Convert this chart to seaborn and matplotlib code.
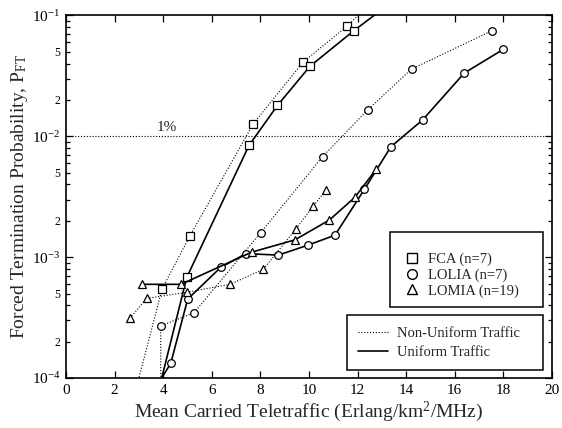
import matplotlib
matplotlib.use("Agg")
import matplotlib.pyplot as plt
from matplotlib.lines import Line2D
from matplotlib.patches import Rectangle
from matplotlib.ticker import FixedLocator, FuncFormatter, LogLocator
import numpy as np
import pandas as pd
import seaborn as sns

# ---- data: forced termination probability vs. carried teletraffic ----
# Points outside the plotted range continue each curve to the frame edge.
fca_nu_x = [2.80, 3.96, 5.10, 7.71, 9.75, 11.58, 12.60]
fca_nu_y = [7.0e-5, 5.5e-4, 1.5e-3, 1.27e-2, 4.1e-2, 8.2e-2, 1.3e-1]

fca_u_x = [3.80, 4.97, 7.53, 8.70, 10.04, 11.85, 13.20]
fca_u_y = [7.7e-5, 6.8e-4, 8.4e-3, 1.8e-2, 3.8e-2, 7.5e-2, 1.2e-1]

lolia_nu_x = [3.90, 3.90, 5.27, 8.02, 10.56, 12.41, 14.22, 17.54]
lolia_nu_y = [5.0e-5, 2.7e-4, 3.47e-4, 1.6e-3, 6.8e-3, 1.65e-2, 3.6e-2, 7.5e-2]

lolia_u_x = [3.70, 4.31, 5.01, 6.37, 7.41, 8.74, 9.97, 11.07, 12.28, 13.37, 14.68, 16.39, 18.00]
lolia_u_y = [8.4e-5, 1.32e-4, 4.5e-4, 8.24e-4, 1.07e-3, 1.04e-3, 1.26e-3, 1.52e-3,
             3.64e-3, 8.2e-3, 1.37e-2, 3.34e-2, 5.25e-2]

lomia_nu_x = [2.63, 3.32, 4.97, 6.75, 8.12, 9.45, 10.18, 10.70]
lomia_nu_y = [3.12e-4, 4.56e-4, 5.12e-4, 5.96e-4, 7.93e-4, 1.7e-3, 2.65e-3, 3.59e-3]

lomia_u_x = [3.14, 4.73, 7.64, 9.42, 10.84, 11.89, 12.76]
lomia_u_y = [5.96e-4, 5.96e-4, 1.1e-3, 1.39e-3, 2.03e-3, 3.13e-3, 5.33e-3]

schemes = ["FCA (n=7)", "LOLIA (n=7)", "LOMIA (n=19)"]
traffic = ["Non-Uniform Traffic", "Uniform Traffic"]
threshold = 1e-2

# ---- style ----
sns.set_theme(style="ticks")
plt.rcParams["font.family"] = ["Liberation Serif", "DejaVu Serif"]
plt.rcParams["mathtext.fontset"] = "custom"
plt.rcParams["mathtext.rm"] = "Liberation Serif"
plt.rcParams["mathtext.it"] = "Liberation Serif:italic"
plt.rcParams["mathtext.default"] = "regular"

DOT = (0, (1.0, 1.6))
styles = {"Non-Uniform Traffic": dict(ls=DOT, lw=0.8),
          "Uniform Traffic": dict(ls="-", lw=1.2)}
markers = {"FCA (n=7)": "s", "LOLIA (n=7)": "o", "LOMIA (n=19)": "^"}

series = [
    ("FCA (n=7)", "Non-Uniform Traffic", fca_nu_x, fca_nu_y),
    ("FCA (n=7)", "Uniform Traffic", fca_u_x, fca_u_y),
    ("LOLIA (n=7)", "Non-Uniform Traffic", lolia_nu_x, lolia_nu_y),
    ("LOLIA (n=7)", "Uniform Traffic", lolia_u_x, lolia_u_y),
    ("LOMIA (n=19)", "Non-Uniform Traffic", lomia_nu_x, lomia_nu_y),
    ("LOMIA (n=19)", "Uniform Traffic", lomia_u_x, lomia_u_y),
]

fig = plt.figure(figsize=(5.62, 4.28), dpi=100)
ax = fig.add_axes([0.1174, 0.1168, 0.8648, 0.8470])

for scheme, tr, xs, ys in series:
    df = pd.DataFrame({"load": xs, "pft": ys})
    st = styles[tr]
    sns.lineplot(data=df, x="load", y="pft", ax=ax, sort=False, estimator=None,
                 color="black", linestyle=st["ls"], linewidth=st["lw"],
                 marker=markers[scheme], markersize=5.5, markerfacecolor="white",
                 markeredgecolor="black", markeredgewidth=0.9, zorder=3)

# 1% reference line
ax.axhline(threshold, color="black", linestyle=DOT, linewidth=0.8, zorder=2)
ax.text(3.75, threshold * 1.04, "1%", fontsize=11, ha="left", va="bottom")

# ---- axes ----
ax.set_yscale("log")
ax.set_xlim(0, 20)
ax.set_ylim(1e-4, 1e-1)
ax.set_xticks(np.arange(0, 21, 2))
ax.yaxis.set_major_locator(FixedLocator([1e-4, 1e-3, 1e-2, 1e-1]))
ax.yaxis.set_major_formatter(
    FuncFormatter(lambda v, p: r"$10^{%d}$" % int(round(np.log10(v)))))
ax.yaxis.set_minor_locator(LogLocator(base=10, subs=np.arange(2, 10)))


def minor_label(v, p):
    m = v / 10 ** np.floor(np.log10(v) + 1e-9)
    m = int(round(m))
    return str(m) if m in (2, 5) else ""


ax.yaxis.set_minor_formatter(FuncFormatter(minor_label))
ax.tick_params(axis="both", which="both", direction="in", top=True, right=True,
               colors="black", width=0.9)
ax.tick_params(axis="both", which="major", length=5, labelsize=11, pad=4)
ax.tick_params(axis="y", which="minor", length=3, labelsize=8.5, pad=4)
for s in ax.spines.values():
    s.set_color("black")
    s.set_linewidth(1.2)

ax.set_xlabel(r"Mean Carried Teletraffic (Erlang/km$^{2}$/MHz)", fontsize=14, labelpad=2)
ax.set_ylabel(r"Forced Termination Probability, P$_{FT}$", fontsize=14, labelpad=1)

# ---- legends ----
scheme_handles = [Line2D([], [], ls="none", marker=markers[s], markersize=7,
                         markerfacecolor="white", markeredgecolor="black",
                         markeredgewidth=1.0) for s in schemes]
traffic_handles = [Line2D([], [], color="black", linestyle=styles[t]["ls"],
                          linewidth=styles[t]["lw"]) for t in traffic]

ax.add_patch(Rectangle((0.667, 0.196), 0.314, 0.207, transform=ax.transAxes,
                       fill=True, facecolor="white", edgecolor="black",
                       linewidth=1.1, zorder=5))
ax.add_patch(Rectangle((0.578, 0.022), 0.403, 0.152, transform=ax.transAxes,
                       fill=True, facecolor="white", edgecolor="black",
                       linewidth=1.1, zorder=5))

leg1 = ax.legend(scheme_handles, schemes, loc="upper left",
                 bbox_to_anchor=(0.697, 0.345), frameon=False, fontsize=10.5,
                 handlelength=1.0, handletextpad=0.6, labelspacing=0.15,
                 borderpad=0, borderaxespad=0)
leg1.set_zorder(6)
ax.add_artist(leg1)

leg2 = ax.legend(traffic_handles, traffic, loc="upper left",
                 bbox_to_anchor=(0.600, 0.140), frameon=False, fontsize=10.5,
                 handlelength=2.1, handletextpad=0.6, labelspacing=0.35,
                 borderpad=0, borderaxespad=0)
leg2.set_zorder(6)

fig.savefig("out.png", dpi=100)
